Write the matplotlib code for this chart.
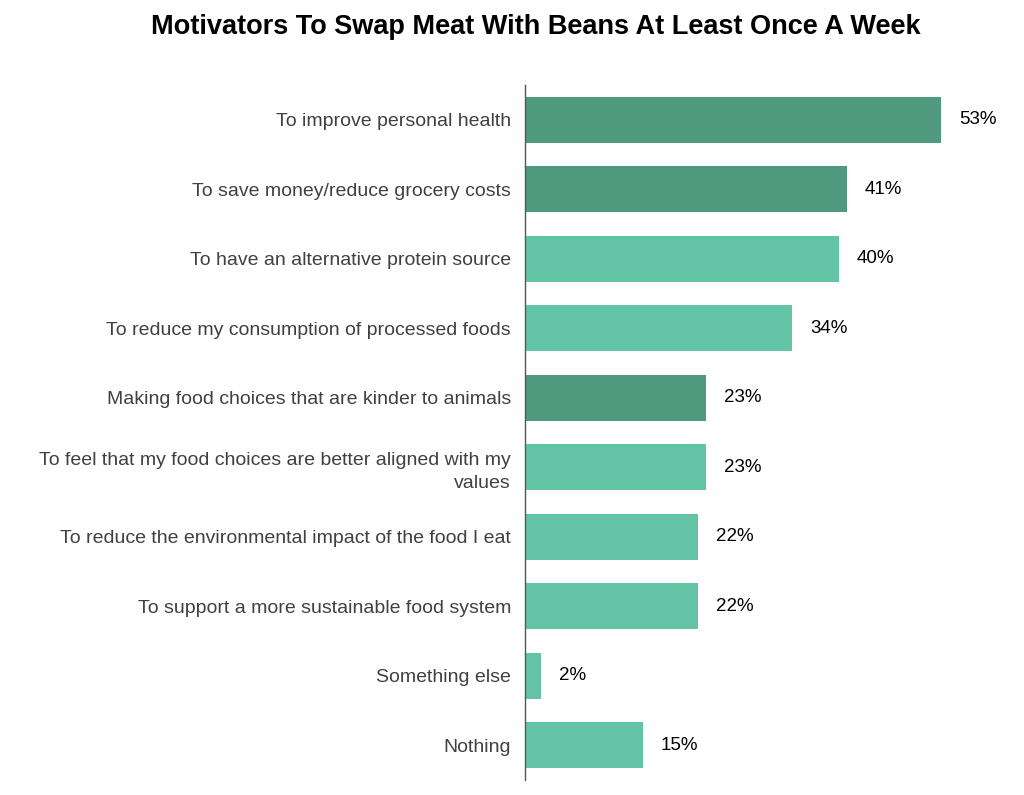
import matplotlib
matplotlib.use("Agg")
import matplotlib.pyplot as plt

# ----------------------------
# Data
# ----------------------------
labels = [
    "To improve personal health",
    "To save money/reduce grocery costs",
    "To have an alternative protein source",
    "To reduce my consumption of processed foods",
    "Making food choices that are kinder to animals",
    "To feel that my food choices are better aligned with my\nvalues",
    "To reduce the environmental impact of the food I eat",
    "To support a more sustainable food system",
    "Something else",
    "Nothing",
]
values = [53, 41, 40, 34, 23, 23, 22, 22, 2, 15]
highlight = [True, True, False, False, True, False, False, False, False, False]

dark = "#4F9A7F"
light = "#63C4A5"
colors = [dark if h else light for h in highlight]

plt.rcParams["font.family"] = ["Liberation Sans", "DejaVu Sans"]

fig = plt.figure(figsize=(10.24, 7.95), dpi=100)
ax = fig.add_axes([0.5127, 0.019, 0.46, 0.874])

y = list(range(len(labels)))
ax.barh(y, values, height=0.66, color=colors)
ax.set_ylim(len(labels) - 0.5, -0.5)
ax.set_xlim(0, 60)

for yi, v in zip(y, values):
    ax.text(v + 2.3, yi, f"{v}%", va="center", ha="left", fontsize=13.5, color="black")

ax.set_yticks(y)
ax.set_yticklabels(labels, fontsize=14, color="#404040", linespacing=1.45)
ax.tick_params(axis="y", length=0, pad=10)
ax.set_xticks([])

for s in ["top", "right", "bottom"]:
    ax.spines[s].set_visible(False)
ax.spines["left"].set_color("#555555")
ax.spines["left"].set_linewidth(1)

fig.text(0.523, 0.966, "Motivators To Swap Meat With Beans At Least Once A Week",
         ha="center", va="center", fontsize=19.5, fontweight="bold", color="black")

fig.savefig("out.png", dpi=100)
plt.close(fig)
